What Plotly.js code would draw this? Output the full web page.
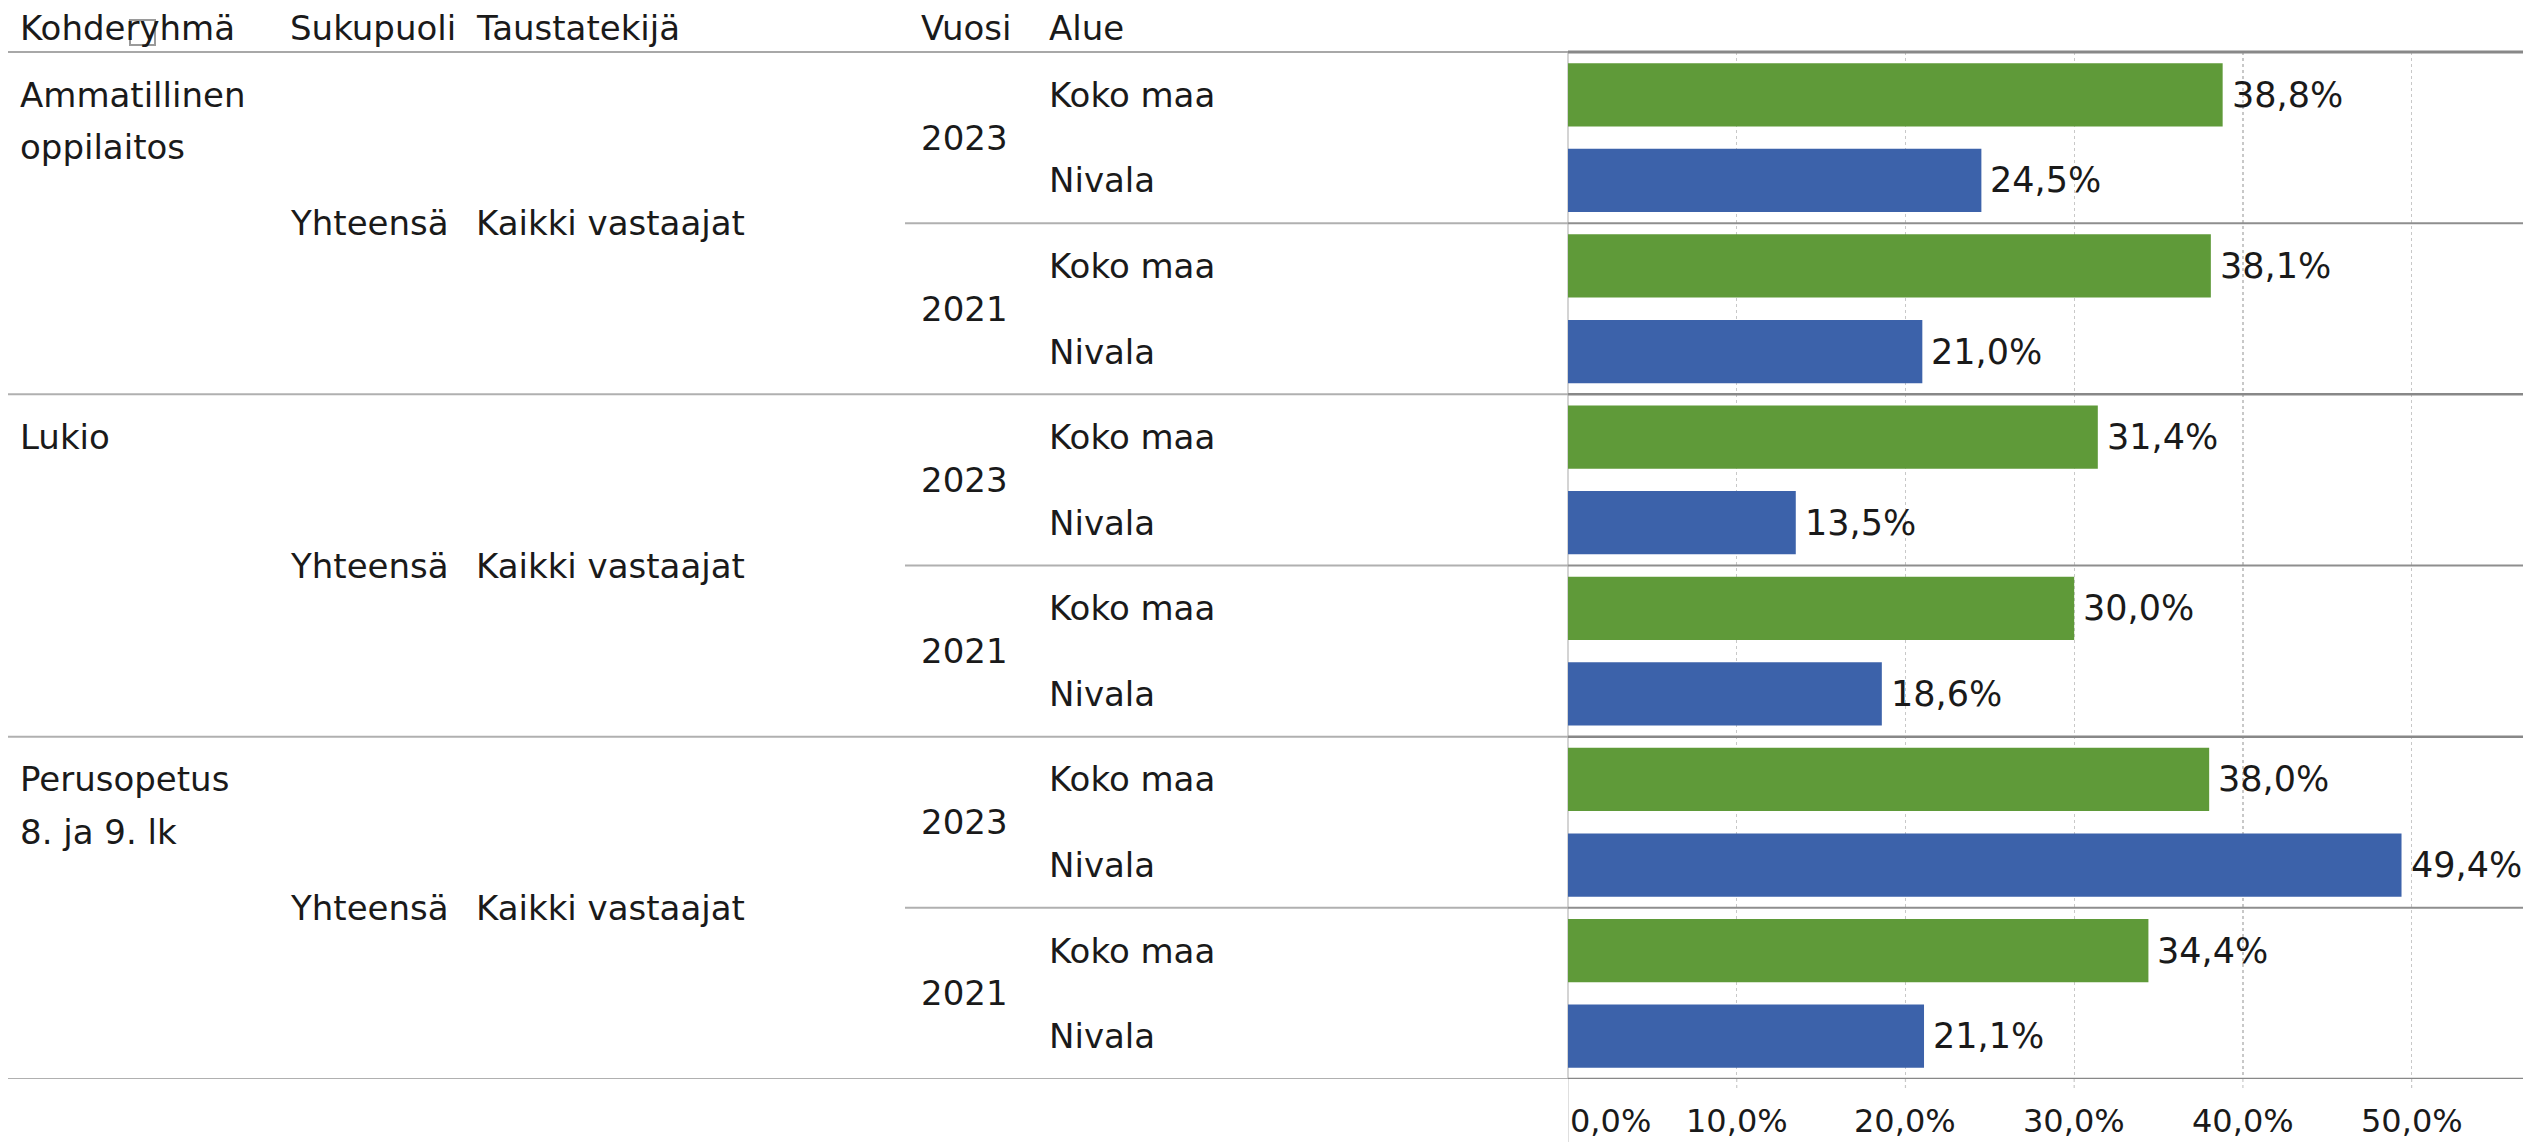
<!DOCTYPE html>
<html>
<head>
<meta charset="utf-8">
<script src="https://cdn.plot.ly/plotly-3.0.1.min.js"></script>
<style>html,body{margin:0;padding:0;background:#fff;}#chart{width:2532px;height:1142px;}</style>
</head>
<body>
<div id="chart"></div>
<script>
// ---- data ----
const headers = ['Kohderyhmä', 'Sukupuoli', 'Taustatekijä', 'Vuosi', 'Alue'];
const groupLines = [['Ammatillinen', 'oppilaitos'], ['Lukio'], ['Perusopetus', '8. ja 9. lk']];
const sukupuoli = ['Yhteensä', 'Yhteensä', 'Yhteensä'];
const taustatekija = ['Kaikki vastaajat', 'Kaikki vastaajat', 'Kaikki vastaajat'];
const years = ['2023', '2021'];
const regions = ['Koko maa', 'Nivala'];
// order: group0-2023, group0-2021, group1-2023, group1-2021, group2-2023, group2-2021
const kokoMaa = [38.8, 38.1, 31.4, 30.0, 38.0, 34.4];
const nivala = [24.5, 21.0, 13.5, 18.6, 49.4, 21.1];
const tickVals = [0, 10, 20, 30, 40, 50];
const tickText = ['0,0%', '10,0%', '20,0%', '30,0%', '40,0%', '50,0%'];

// ---- geometry helpers ----
const W = 2532, H = 1142;
const L = 1568, R = 9, T = 52, B = 63;
const PW = W - L - R, PH = H - T - B;
const xp = px => (px - L) / PW;
const yp = py => (H - B - py) / PH;
const FONT = 'DejaVu Sans, Verdana, sans-serif';
const TXT = '#1a1a1a';

const kokoRows = [], nivRows = [];
for (let i = 0; i < kokoMaa.length; i++) { kokoRows.push(i * 2); nivRows.push(i * 2 + 1); }

const traces = [
  { type: 'bar', orientation: 'h', name: regions[0], x: kokoMaa, y: kokoRows, width: 0.74,
    marker: { color: '#5f9a39', line: { width: 0 } }, hoverinfo: 'none' },
  { type: 'bar', orientation: 'h', name: regions[1], x: nivala, y: nivRows, width: 0.74,
    marker: { color: '#3c62aa', line: { width: 0 } }, hoverinfo: 'none' }
];

const ann = [];
const f34 = { family: FONT, size: 34, color: TXT };
const fmt = v => v.toFixed(1).replace('.', ',') + '%';
// bar value labels
traces.forEach(tr => tr.x.forEach((v, i) => ann.push({ text: fmt(v), xref: 'x', yref: 'y', x: v, y: tr.y[i],
  xanchor: 'left', yanchor: 'middle', xshift: 7, showarrow: false,
  font: { family: FONT, size: 35, color: TXT } })));

const hx = [18, 288, 474, 919, 1047];
headers.forEach((h, i) => ann.push({ text: h, xref: 'paper', yref: 'paper', x: xp(hx[i]), y: yp(28),
  xanchor: 'left', yanchor: 'middle', showarrow: false, font: f34 }));

groupLines.forEach((lines, g) => {
  const base = g * 4;
  lines.forEach((t, k) => ann.push({ text: t, xref: 'paper', yref: 'y', x: xp(18), y: base + k * 0.61,
    xanchor: 'left', yanchor: 'middle', showarrow: false, font: f34 }));
  ann.push({ text: sukupuoli[g], xref: 'paper', yref: 'y', x: xp(288), y: base + 1.5,
    xanchor: 'left', yanchor: 'middle', showarrow: false, font: f34 });
  ann.push({ text: taustatekija[g], xref: 'paper', yref: 'y', x: xp(474), y: base + 1.5,
    xanchor: 'left', yanchor: 'middle', showarrow: false, font: f34 });
  years.forEach((yr, j) => {
    const r0 = base + j * 2;
    ann.push({ text: yr, xref: 'paper', yref: 'y', x: xp(919), y: r0 + 0.5,
      xanchor: 'left', yanchor: 'middle', showarrow: false, font: f34 });
    regions.forEach((rg, k) => ann.push({ text: rg, xref: 'paper', yref: 'y', x: xp(1047), y: r0 + k,
      xanchor: 'left', yanchor: 'middle', showarrow: false, font: f34 }));
  });
});

tickVals.forEach((v, i) => ann.push({ text: tickText[i], xref: 'x', yref: 'paper', x: v, y: yp(1121),
  xanchor: i === 0 ? 'left' : 'center', yanchor: 'middle', showarrow: false,
  font: { family: FONT, size: 32, color: TXT } }));

const shapes = [];
const hline = (x0, x1, yv, yref, color, w) => shapes.push({ type: 'line', xref: 'paper', yref: yref,
  x0: x0, x1: x1, y0: yv, y1: yv, line: { color: color, width: w }, layer: 'above' });
// header line
hline(xp(8), 0, yp(52), 'paper', '#a8a8a8', 2);
hline(0, 1, yp(52), 'paper', '#888888', 3);
// group separators and bottom
[3.5, 7.5, 11.5].forEach(r => { hline(xp(8), 0, r, 'y', '#b0b0b0', 2); hline(0, 1, r, 'y', '#888888', 2.5); });
// year separators
[1.5, 5.5, 9.5].forEach(r => { hline(xp(905), 0, r, 'y', '#b0b0b0', 2); hline(0, 1, r, 'y', '#8e8e8e', 2); });
// gridline extensions below plot
tickVals.forEach((v, i) => {
  if (i === 0) {
    shapes.push({ type: 'line', xref: 'x', yref: 'paper', x0: v, x1: v, y0: 0, y1: yp(H), line: { color: '#d4d4d4', width: 1.5 } });
  } else {
    shapes.push({ type: 'line', xref: 'x', yref: 'paper', x0: v, x1: v, y0: 0, y1: yp(1088), line: { color: '#c8c8c8', width: 1.2, dash: 'dot' } });
  }
});
// collapse icon next to the first header (drawn as a shape, behind text)
shapes.push({ type: 'rect', xref: 'paper', yref: 'paper', x0: xp(130), x1: xp(155), y0: yp(45), y1: yp(20),
  line: { color: '#9a9a9a', width: 2 }, fillcolor: 'rgba(255,255,255,0)', layer: 'above' });

const layout = {
  width: W, height: H,
  margin: { l: L, r: R, t: T, b: B, pad: 0 },
  paper_bgcolor: '#fff', plot_bgcolor: '#fff',
  showlegend: false, barmode: 'overlay', separators: ', ',
  font: { family: FONT, color: TXT },
  xaxis: { range: [0, 56.6], tickvals: tickVals, showticklabels: false, showgrid: true,
    gridcolor: '#c8c8c8', griddash: 'dot', gridwidth: 1.2, zeroline: true, zerolinecolor: '#d4d4d4',
    zerolinewidth: 1.5, showline: false, ticks: '', fixedrange: true },
  yaxis: { range: [11.5, -0.5], showticklabels: false, showgrid: false, zeroline: false,
    showline: false, ticks: '', fixedrange: true },
  annotations: ann,
  shapes: shapes
};

Plotly.newPlot('chart', traces, layout, { staticPlot: true, displayModeBar: false });
</script>
</body>
</html>
